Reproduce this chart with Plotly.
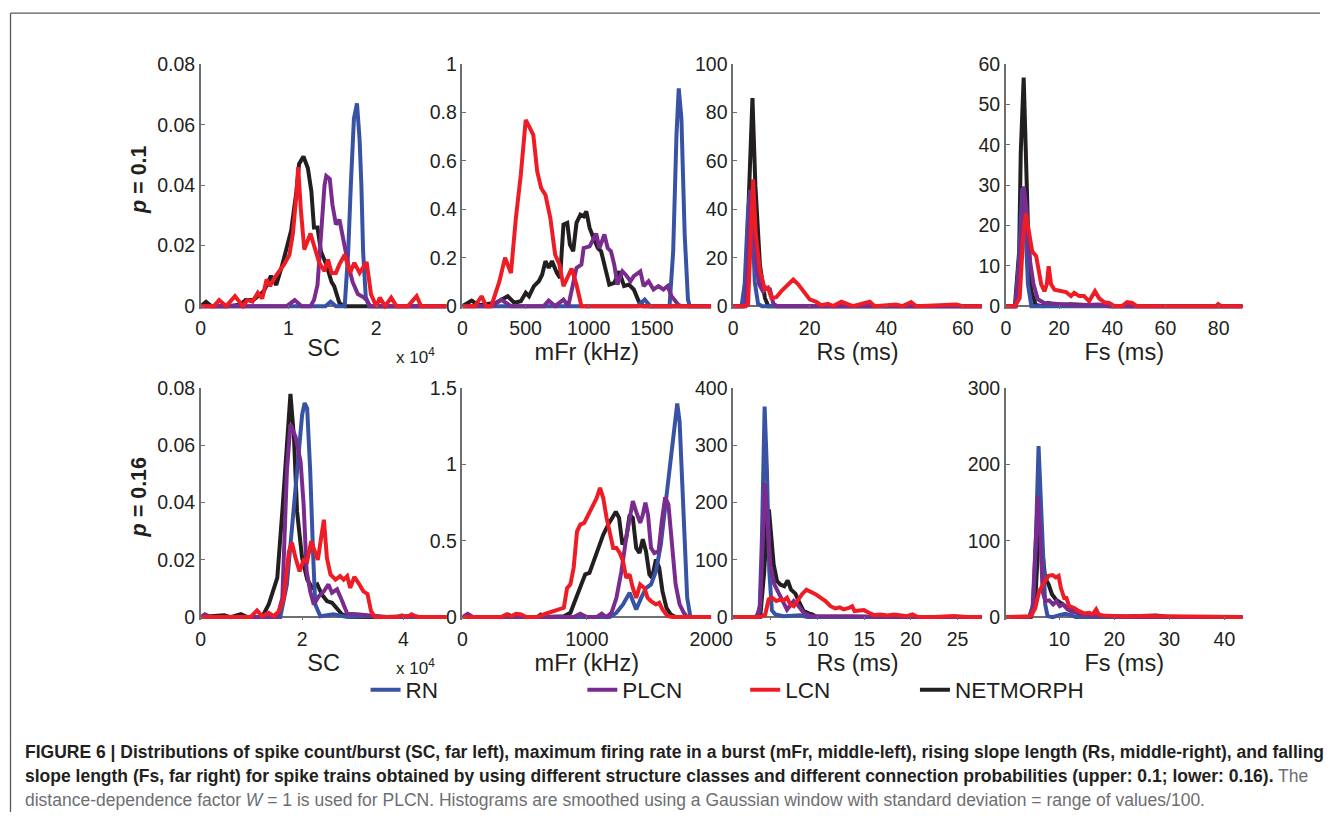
import plotly.graph_objects as go

# ---------------- data ----------------
# Row 1 (p = 0.1) -- SC (x 10^4)
SC1_RN_X = [0, 1.42, 1.48, 1.54, 1.64, 1.68, 1.71, 1.745, 1.78, 1.81, 1.83, 1.85, 1.88, 1.92, 2.8]
SC1_RN_Y = [0, 0, 0.0015, 0, 0, 0.018, 0.04, 0.062, 0.067, 0.055, 0.04, 0.018, 0.003, 0, 0]
SC1_PLCN_X = [0, 0.98, 1.07, 1.15, 1.25, 1.29, 1.33, 1.37, 1.41, 1.43, 1.47, 1.50, 1.54, 1.58, 1.62, 1.68, 1.73, 1.79, 1.85, 1.89, 1.93, 2.8]
SC1_PLCN_Y = [0, 0, 0.002, 0, 0, 0.002, 0.007, 0.0225, 0.04, 0.043, 0.042, 0.0336, 0.027, 0.0286, 0.0225, 0.0138, 0.008, 0.004, 0.003, 0.002, 0, 0]
SC1_LCN_X = [0, 0.15, 0.21, 0.29, 0.39, 0.48, 0.53, 0.59, 0.65, 0.70, 0.75, 0.79, 0.84, 0.90, 0.95, 1.01, 1.05, 1.09, 1.11, 1.14, 1.18, 1.25, 1.30, 1.35, 1.41, 1.45, 1.49, 1.54, 1.58, 1.64, 1.70, 1.75, 1.81, 1.89, 1.94, 2.0, 2.04, 2.10, 2.17, 2.23, 2.36, 2.46, 2.51, 2.8]
SC1_LCN_Y = [0, 0, 0.002, 0, 0.0033, 0, 0.002, 0.0015, 0.0044, 0.0025, 0.0088, 0.0066, 0.0094, 0.0116, 0.0138, 0.017, 0.024, 0.037, 0.046, 0.032, 0.0187, 0.024, 0.019, 0.0143, 0.0116, 0.0154, 0.011, 0.011, 0.0138, 0.017, 0.011, 0.0143, 0.011, 0.0146, 0.0039, 0, 0.0028, 0, 0.0028, 0, 0, 0.0033, 0, 0]
SC1_NM_X = [0, 0.06, 0.12, 0.3, 0.45, 0.51, 0.6, 0.72, 0.8, 0.86, 0.93, 0.97, 1.03, 1.09, 1.12, 1.17, 1.22, 1.26, 1.29, 1.33, 1.37, 1.43, 1.49, 1.52, 1.58, 1.64, 2.8]
SC1_NM_Y = [0, 0.0014, 0, 0, 0.0005, 0.002, 0.002, 0.005, 0.01, 0.007, 0.0138, 0.018, 0.025, 0.038, 0.047, 0.0495, 0.0457, 0.038, 0.026, 0.026, 0.018, 0.0138, 0.008, 0.0066, 0.001, 0, 0]

# Row 1 -- mFr (kHz)
MFR1_RN_X = [0, 1383, 1443, 1487, 1640, 1669, 1695, 1713, 1734, 1760, 1786, 1800, 1970]
MFR1_RN_Y = [0, 0, 0.027, 0, 0, 0.227, 0.708, 0.90, 0.777, 0.296, 0.027, 0, 0]
MFR1_PLCN_X = [0, 228, 306, 384, 644, 683, 734, 800, 838, 877, 903, 942, 960, 1007, 1059, 1085, 1124, 1150, 1176, 1202, 1228, 1267, 1293, 1331, 1357, 1409, 1435, 1474, 1513, 1552, 1591, 1625, 1656, 1708, 1734, 1970]
MFR1_PLCN_Y = [0, 0, 0.027, 0, 0, 0.023, 0, 0.027, 0, 0.089, 0.158, 0.172, 0.24, 0.247, 0.30, 0.24, 0.296, 0.24, 0.227, 0.172, 0.089, 0.144, 0.13, 0.103, 0.124, 0.144, 0.083, 0.103, 0.069, 0.083, 0.069, 0.083, 0.041, 0.007, 0, 0]
MFR1_LCN_X = [0, 99, 151, 189, 228, 267, 293, 337, 384, 423, 462, 501, 527, 561, 592, 623, 657, 696, 734, 768, 800, 830, 864, 903, 942, 1970]
MFR1_LCN_Y = [0, 0, 0.041, 0, 0, 0.062, 0.103, 0.2, 0.137, 0.364, 0.543, 0.77, 0.743, 0.708, 0.557, 0.488, 0.46, 0.364, 0.213, 0.172, 0.083, 0.117, 0.155, 0.089, 0, 0]
MFR1_NM_X = [0, 73, 125, 176, 267, 358, 410, 462, 501, 527, 566, 605, 631, 657, 683, 709, 748, 773, 800, 830, 851, 877, 903, 934, 960, 981, 1007, 1038, 1072, 1098, 1124, 1163, 1202, 1241, 1280, 1318, 1357, 1396, 1435, 1970]
MFR1_NM_Y = [0, 0.023, 0.004, 0.007, 0.014, 0.041, 0.014, 0.02, 0.055, 0.041, 0.083, 0.103, 0.13, 0.186, 0.158, 0.186, 0.137, 0.117, 0.337, 0.344, 0.254, 0.227, 0.344, 0.378, 0.371, 0.392, 0.323, 0.282, 0.24, 0.227, 0.172, 0.089, 0.096, 0.144, 0.083, 0.089, 0.069, 0.02, 0, 0]

# Row 1 -- Rs (ms)
RS1_RN_X = [0, 2.2, 3.0, 3.9, 4.5, 5.0, 5.65, 6.5, 7.5, 65]
RS1_RN_Y = [0, 0, 9, 40, 48, 35, 10, 1, 0, 0]
RS1_PLCN_X = [0, 3.2, 4.0, 4.6, 5.3, 6.0, 6.8, 7.8, 8.7, 9.6, 10.5, 11.5, 65]
RS1_PLCN_Y = [0, 0, 25, 48, 38, 18, 9, 6, 7.6, 7, 1, 0, 0]
RS1_LCN_X = [0, 2.6, 3.9, 4.5, 5.2, 5.9, 7.0, 8.3, 9.1, 10.0, 11.3, 12.6, 14.1, 15.7, 17.0, 18.3, 20.0, 21.7, 23.0, 24.8, 26.1, 28.3, 29.6, 31.3, 35.7, 37.0, 42.6, 44.3, 46.5, 47.8, 58.3, 60.0, 65]
RS1_LCN_Y = [0, 0, 0.7, 22.8, 52.4, 29.7, 14.5, 6.9, 7.6, 3.4, 3.7, 6.2, 8.3, 11, 9, 6.2, 2.8, 1.8, 0.4, 1, 0, 1.8, 1, 0, 1.8, 0, 0.7, 0, 1.7, 0, 0.7, 0, 0]
RS1_NM_X = [0, 2.6, 3.4, 4.1, 5.04, 5.8, 7.0, 8.3, 9.2, 65]
RS1_NM_Y = [0, 0, 15, 50, 86, 50, 17, 3.4, 0, 0]

# Row 1 -- Fs (ms)
FS1_RN_X = [0, 3.6, 5.0, 6.2, 7.1, 8.3, 9.6, 89]
FS1_RN_Y = [0, 0, 12, 29.3, 24, 5.4, 0, 0]
FS1_PLCN_X = [0, 3.7, 5.2, 6.7, 7.7, 8.9, 10.4, 12.0, 14.5, 20.0, 26.3, 35.0, 38.8, 89]
FS1_PLCN_Y = [0, 0, 12, 29.7, 24.3, 12, 5.4, 1.7, 0.8, 0.6, 0.2, 0.4, 0, 0]
FS1_LCN_X = [0, 3.4, 5.2, 6.5, 7.5, 8.7, 9.9, 11.4, 13.3, 14.5, 15.4, 16.1, 17.0, 18.3, 20.7, 22.6, 24.5, 25.7, 27.6, 29.4, 31.3, 33.5, 35.0, 36.9, 38.8, 40.6, 43.7, 45.6, 47.5, 49.3, 79.0, 79.8, 81.0, 89]
FS1_LCN_Y = [0, 0, 2, 17, 23, 18.6, 13.6, 12.4, 5.4, 3.7, 5.4, 9.9, 5.4, 4.1, 3.7, 3.5, 2.5, 3.3, 2.5, 2.5, 1.2, 3.7, 2, 1, 0.8, 0.1, 0, 1, 0.8, 0, 0, 0.5, 0, 0]
FS1_NM_X = [0, 3.4, 5.0, 5.6, 6.7, 7.7, 8.3, 9.6, 11.2, 13.9, 15.8, 18.9, 24.5, 32.5, 40, 89]
FS1_NM_Y = [0, 0, 13.6, 38, 56.7, 38, 20, 3.7, 0.3, 0, 0.8, 0.3, 0.5, 0.2, 0, 0]

# Row 2 (p = 0.16) -- SC (x 10^4)
SC2_RN_X = [0, 1.57, 1.70, 1.84, 1.93, 2.0, 2.05, 2.1, 2.16, 2.22, 2.26, 2.36, 2.62, 2.89, 3.34, 3.6, 4.85]
SC2_RN_Y = [0, 0, 0.0114, 0.037, 0.0567, 0.0707, 0.0748, 0.073, 0.051, 0.0207, 0.0044, 0.0003, 0.001, 0, 0.0004, 0, 0]
SC2_PLCN_X = [0, 0.08, 0.2, 1.51, 1.61, 1.70, 1.77, 1.87, 1.97, 2.03, 2.09, 2.16, 2.23, 2.33, 2.43, 2.52, 2.59, 2.69, 2.79, 2.89, 3.08, 3.28, 3.48, 3.67, 4.2, 4.33, 4.85]
SC2_PLCN_Y = [0, 0.001, 0, 0, 0.0067, 0.051, 0.0674, 0.063, 0.0544, 0.0393, 0.016, 0.009, 0.0044, 0.0073, 0.009, 0.0114, 0.0085, 0.0097, 0.0056, 0.0012, 0.001, 0.0006, 0.0004, 0, 0.0005, 0, 0]
SC2_LCN_X = [0, 0.98, 1.11, 1.21, 1.34, 1.44, 1.54, 1.64, 1.74, 1.80, 1.87, 1.95, 2.03, 2.10, 2.18, 2.25, 2.31, 2.37, 2.43, 2.49, 2.56, 2.66, 2.75, 2.82, 2.89, 2.95, 3.03, 3.11, 3.21, 3.29, 3.36, 3.44, 3.87, 3.97, 4.07, 4.16, 4.26, 4.85]
SC2_LCN_Y = [0, 0, 0.0023, 0.0003, 0.0015, 0.0003, 0.002, 0.0067, 0.023, 0.026, 0.0207, 0.016, 0.02, 0.0195, 0.0265, 0.023, 0.02, 0.027, 0.034, 0.0207, 0.0149, 0.0131, 0.0143, 0.0131, 0.0143, 0.0102, 0.014, 0.012, 0.009, 0.0081, 0.0021, 0, 0, 0.0006, 0, 0.001, 0, 0]
SC2_NM_X = [0, 0.46, 0.59, 0.79, 0.92, 1.21, 1.34, 1.41, 1.51, 1.61, 1.70, 1.77, 1.84, 1.90, 2.0, 2.1, 2.2, 2.3, 2.39, 2.49, 2.59, 2.69, 2.79, 2.95, 4.85]
SC2_NM_Y = [0, 0.0006, 0, 0.001, 0, 0, 0.0044, 0.0085, 0.0137, 0.037, 0.0626, 0.078, 0.0626, 0.037, 0.0207, 0.0131, 0.0102, 0.0114, 0.0079, 0.0056, 0.005, 0.0027, 0.0009, 0, 0]

# Row 2 -- mFr (kHz)
MFR2_RN_X = [0, 1185, 1238, 1291, 1344, 1376, 1397, 1437, 1476, 1516, 1556, 1595, 1635, 1667, 1701, 1727, 1746, 1767, 1788, 1807, 1833, 2000]
MFR2_RN_Y = [0, 0, 0.028, 0.083, 0.16, 0.083, 0.05, 0.126, 0.19, 0.214, 0.3, 0.475, 0.76, 1.03, 1.24, 1.40, 1.28, 0.846, 0.41, 0.126, 0, 0]
MFR2_PLCN_X = [0, 42, 87, 894, 947, 1000, 1079, 1119, 1159, 1198, 1238, 1278, 1317, 1349, 1370, 1397, 1429, 1450, 1471, 1492, 1516, 1542, 1577, 1603, 1630, 1656, 1683, 1714, 1746, 1780, 1807, 2000]
MFR2_PLCN_Y = [0, 0.022, 0, 0, 0.022, 0, 0, 0.022, 0, 0.028, 0.126, 0.3, 0.52, 0.69, 0.76, 0.69, 0.617, 0.67, 0.75, 0.67, 0.453, 0.42, 0.43, 0.628, 0.785, 0.737, 0.475, 0.214, 0.083, 0.028, 0, 0]
MFR2_LCN_X = [0, 312, 352, 392, 431, 471, 511, 603, 669, 722, 775, 815, 841, 868, 894, 921, 947, 979, 1013, 1053, 1079, 1106, 1132, 1159, 1185, 1212, 1238, 1265, 1291, 1317, 1344, 1370, 1397, 1429, 1463, 1489, 1516, 1556, 1582, 1608, 1648, 1688, 2000]
MFR2_LCN_Y = [0, 0, 0.017, 0.006, 0.022, 0.017, 0, 0, 0.022, 0.039, 0.05, 0.061, 0.19, 0.214, 0.323, 0.56, 0.606, 0.617, 0.67, 0.737, 0.78, 0.846, 0.78, 0.65, 0.56, 0.453, 0.453, 0.42, 0.366, 0.257, 0.28, 0.19, 0.126, 0.214, 0.19, 0.126, 0.105, 0.083, 0.094, 0.05, 0.007, 0, 0]
MFR2_NM_X = [0, 339, 365, 405, 603, 630, 669, 815, 868, 907, 947, 987, 1021, 1053, 1093, 1132, 1172, 1206, 1233, 1259, 1286, 1317, 1344, 1370, 1397, 1423, 1450, 1476, 1503, 1524, 1556, 1582, 1608, 1640, 1675, 1714, 2000]
MFR2_NM_Y = [0, 0, 0.017, 0, 0, 0.017, 0, 0.006, 0.028, 0.105, 0.19, 0.28, 0.29, 0.366, 0.453, 0.54, 0.606, 0.65, 0.69, 0.65, 0.475, 0.52, 0.67, 0.65, 0.453, 0.42, 0.51, 0.43, 0.28, 0.257, 0.377, 0.323, 0.17, 0.061, 0.017, 0, 0]

# Row 2 -- Rs (ms)
RS2_RN_X = [0.95, 3.32, 3.78, 4.03, 4.32, 4.57, 4.82, 5.1, 5.47, 6.36, 8.15, 8.87, 27.6]
RS2_RN_Y = [0, 0, 10, 138, 368, 255, 80, 11.6, 4.7, 1.7, 3, 0, 0]
RS2_PLCN_X = [0.95, 3.5, 3.85, 4.14, 4.35, 4.57, 4.93, 5.36, 5.82, 6.29, 6.72, 7.0, 7.44, 7.97, 8.5, 9.23, 11.0, 13.5, 17.1, 18.9, 20.7, 27.6]
RS2_PLCN_Y = [0, 0, 22, 167, 234, 185, 92, 57, 42, 28, 13, 19, 28, 19, 7.6, 1.7, 1, 1.5, 0.6, 1, 0, 0]
RS2_LCN_X = [0.95, 3.85, 4.39, 4.75, 5.1, 5.57, 6.0, 6.36, 6.72, 7.08, 7.44, 7.8, 8.33, 8.8, 9.23, 9.77, 10.3, 10.84, 11.38, 11.9, 12.38, 12.8, 13.35, 13.7, 13.96, 14.43, 14.96, 15.5, 16.04, 16.76, 17.47, 18.19, 18.9, 19.6, 20.16, 20.7, 22.5, 24.6, 26.1, 27.6]
RS2_LCN_Y = [0, 0, 4.7, 31, 34, 28, 31, 29, 34, 22, 19, 28, 40, 48, 45, 40, 34, 28, 19, 15, 17, 13.4, 16, 19, 10.5, 11.6, 12.2, 7.6, 3.5, 4.7, 3, 4.7, 3, 1.7, 4.7, 0.6, 0, 1.7, 0, 0]
RS2_NM_X = [0.95, 3.85, 4.28, 4.57, 4.78, 5.04, 5.29, 5.65, 6.0, 6.43, 6.79, 7.15, 7.62, 7.97, 8.5, 9.05, 9.41, 9.95, 27.6]
RS2_NM_Y = [0, 0, 80, 167, 188, 138, 92, 63, 57, 54, 64, 48, 41, 28, 10.5, 6.4, 4.7, 0, 0]

# Row 2 -- Fs (ms)
FS2_RN_X = [0.3, 4.55, 5.27, 5.76, 6.24, 6.67, 7.09, 7.45, 7.88, 8.8, 10.0, 11.1, 12.1, 13.0, 43.3]
FS2_RN_Y = [0, 0, 16.6, 104, 224, 147, 60, 16.6, 1.3, 0, 2.6, 4.4, 2.6, 0, 0]
FS2_PLCN_X = [0.3, 4.55, 5.15, 5.64, 6.12, 6.6, 6.97, 7.45, 8.18, 8.9, 9.5, 10.1, 10.7, 11.5, 12.4, 13.3, 14.5, 16.1, 18.5, 22.1, 25.8, 29.4, 31.2, 43.3]
FS2_PLCN_Y = [0, 0, 12, 82, 158, 104, 34, 21, 22, 16.6, 21, 14.4, 16.6, 10, 7, 5.7, 3.5, 2.2, 1.3, 0.4, 0.9, 0.4, 0, 0]
FS2_LCN_X = [0.3, 4.24, 4.85, 5.64, 6.36, 7.09, 7.58, 8.06, 8.79, 9.39, 9.88, 10.3, 10.9, 11.3, 11.8, 12.7, 13.6, 14.5, 15.45, 16.06, 16.7, 17.15, 17.9, 19.7, 22.1, 24.5, 28.2, 34.2, 39.1, 43.3]
FS2_LCN_Y = [0, 0, 1, 12, 34, 43, 49, 54, 55, 52, 54, 38, 25, 25, 14.4, 12, 7.8, 4.8, 5.7, 3.5, 10, 3.5, 2.2, 1.3, 0.9, 1.3, 0.9, 0.4, 0.9, 0]
FS2_NM_X = [0.3, 4.85, 5.64, 6.24, 6.55, 6.97, 7.45, 8.06, 8.67, 9.39, 10.3, 11.1, 11.9, 12.7, 13.6, 14.8, 17.3, 22.1, 27.6, 29.4, 31.2, 43.3]
FS2_NM_Y = [0, 0, 21, 104, 112, 78, 51, 43, 30, 23, 19, 14.4, 10, 7, 4.4, 2.6, 1.3, 0.9, 2.2, 0.4, 0, 0]

# axis ranges / ticks
SC1_XRANGE, SC2_XRANGE = [0, 2.8], [0, 4.85]
MFR1_XRANGE, MFR2_XRANGE = [0, 1970], [0, 2000]
RS1_XRANGE, RS2_XRANGE = [0, 65], [0.95, 27.6]
FS1_XRANGE, FS2_XRANGE = [0, 89], [0.3, 43.3]
SC1_XTICKS, SC2_XTICKS = [0, 1, 2], [0, 2, 4]
MFR1_XTICKS, MFR2_XTICKS = [0, 500, 1000, 1500], [0, 1000, 2000]
RS1_XTICKS, RS2_XTICKS = [0, 20, 40, 60], [5, 10, 15, 20, 25]
FS1_XTICKS, FS2_XTICKS = [0, 20, 40, 60, 80], [10, 20, 30, 40]
SC_YTICKS = [0, 0.02, 0.04, 0.06, 0.08]
SC_YLABELS = ["0", "0.02", "0.04", "0.06", "0.08"]
MFR1_YTICKS = [0, 0.2, 0.4, 0.6, 0.8, 1]
MFR1_YLABELS = ["0", "0.2", "0.4", "0.6", "0.8", "1"]
MFR2_YTICKS = [0, 0.5, 1, 1.5]
MFR2_YLABELS = ["0", "0.5", "1", "1.5"]
RS1_YTICKS = [0, 20, 40, 60, 80, 100]
FS1_YTICKS = [0, 10, 20, 30, 40, 50, 60]
RS2_YTICKS = [0, 100, 200, 300, 400]
FS2_YTICKS = [0, 100, 200, 300]
ROW_LABELS = ["<b><i>p</i> = 0.1</b>", "<b><i>p</i> = 0.16</b>"]
X_TITLES = ["SC", "mFr (kHz)", "Rs (ms)", "Fs (ms)"]
SERIES = ["RN", "PLCN", "LCN", "NETMORPH"]

# ---------------- styling ----------------
W, H = 1342, 820
# calibration of the capture (observed = a * requested + b), measured on previous renders
CAL_AX, CAL_BX = 0.981, 4.0
CAL_AY, CAL_BY = 0.977, 9.8
COLORS = {"RN": "#3953a4", "PLCN": "#7a2c8e", "LCN": "#ee1d25", "NETMORPH": "#231f20"}
DRAW_ORDER = ["NETMORPH", "RN", "PLCN", "LCN"]
LEGEND_IDS = {"RN": "legend", "PLCN": "legend2", "LCN": "legend3", "NETMORPH": "legend4"}
LEGEND_X_PX = {"RN": 365, "PLCN": 582, "LCN": 745, "NETMORPH": 915}
COL_PX = [(200, 446), (462, 711), (733, 982), (1006, 1243)]
ROW_PX = [(63, 305), (387, 616)]   # (top, zero line) in reference pixels
PAD = 3
AXC = "#6d6e71"
TXT = "#231f20"
FONT = "Liberation Sans, Arial, Helvetica, sans-serif"


def fx(px):
    return ((px - CAL_BX) / CAL_AX) / W


def fy(py):
    return 1 - ((py - CAL_BY) / CAL_AY) / H


panels = [
    (0, 0, {"RN": (SC1_RN_X, SC1_RN_Y), "PLCN": (SC1_PLCN_X, SC1_PLCN_Y), "LCN": (SC1_LCN_X, SC1_LCN_Y), "NETMORPH": (SC1_NM_X, SC1_NM_Y)},
     SC1_XRANGE, SC1_XTICKS, SC_YTICKS, SC_YLABELS),
    (0, 1, {"RN": (MFR1_RN_X, MFR1_RN_Y), "PLCN": (MFR1_PLCN_X, MFR1_PLCN_Y), "LCN": (MFR1_LCN_X, MFR1_LCN_Y), "NETMORPH": (MFR1_NM_X, MFR1_NM_Y)},
     MFR1_XRANGE, MFR1_XTICKS, MFR1_YTICKS, MFR1_YLABELS),
    (0, 2, {"RN": (RS1_RN_X, RS1_RN_Y), "PLCN": (RS1_PLCN_X, RS1_PLCN_Y), "LCN": (RS1_LCN_X, RS1_LCN_Y), "NETMORPH": (RS1_NM_X, RS1_NM_Y)},
     RS1_XRANGE, RS1_XTICKS, RS1_YTICKS, [str(v) for v in RS1_YTICKS]),
    (0, 3, {"RN": (FS1_RN_X, FS1_RN_Y), "PLCN": (FS1_PLCN_X, FS1_PLCN_Y), "LCN": (FS1_LCN_X, FS1_LCN_Y), "NETMORPH": (FS1_NM_X, FS1_NM_Y)},
     FS1_XRANGE, FS1_XTICKS, FS1_YTICKS, [str(v) for v in FS1_YTICKS]),
    (1, 0, {"RN": (SC2_RN_X, SC2_RN_Y), "PLCN": (SC2_PLCN_X, SC2_PLCN_Y), "LCN": (SC2_LCN_X, SC2_LCN_Y), "NETMORPH": (SC2_NM_X, SC2_NM_Y)},
     SC2_XRANGE, SC2_XTICKS, SC_YTICKS, SC_YLABELS),
    (1, 1, {"RN": (MFR2_RN_X, MFR2_RN_Y), "PLCN": (MFR2_PLCN_X, MFR2_PLCN_Y), "LCN": (MFR2_LCN_X, MFR2_LCN_Y), "NETMORPH": (MFR2_NM_X, MFR2_NM_Y)},
     MFR2_XRANGE, MFR2_XTICKS, MFR2_YTICKS, MFR2_YLABELS),
    (1, 2, {"RN": (RS2_RN_X, RS2_RN_Y), "PLCN": (RS2_PLCN_X, RS2_PLCN_Y), "LCN": (RS2_LCN_X, RS2_LCN_Y), "NETMORPH": (RS2_NM_X, RS2_NM_Y)},
     RS2_XRANGE, RS2_XTICKS, RS2_YTICKS, [str(v) for v in RS2_YTICKS]),
    (1, 3, {"RN": (FS2_RN_X, FS2_RN_Y), "PLCN": (FS2_PLCN_X, FS2_PLCN_Y), "LCN": (FS2_LCN_X, FS2_LCN_Y), "NETMORPH": (FS2_NM_X, FS2_NM_Y)},
     FS2_XRANGE, FS2_XTICKS, FS2_YTICKS, [str(v) for v in FS2_YTICKS]),
]

fig = go.Figure()
layout = {}
for i, (r, c, data, xr, xt, yt, ylab) in enumerate(panels):
    n = i + 1
    sfx = "" if n == 1 else str(n)
    top_px, zero_px = ROW_PX[r]
    x0, x1 = COL_PX[c]
    ytop = yt[-1]
    ybot = -ytop * PAD / (zero_px - top_px)
    for s in DRAW_ORDER:
        x, y = data[s]
        fig.add_trace(go.Scatter(
            x=x, y=y, mode="lines", name=s,
            line=dict(color=COLORS[s], width=4),
            xaxis="x" + sfx, yaxis="y" + sfx,
            showlegend=(i == 0), legend=LEGEND_IDS[s], hoverinfo="skip"))
    layout["xaxis" + sfx] = dict(
        domain=[fx(x0), fx(x1)], range=xr, anchor="y" + sfx,
        tickmode="array", tickvals=xt, ticktext=[str(v) for v in xt],
        ticks="inside", ticklen=4, tickcolor=AXC, tickwidth=1,
        showline=False, zeroline=False, showgrid=False,
        tickfont=dict(size=19.5, color=TXT), ticklabelstandoff=5,
        title=dict(text=X_TITLES[c], font=dict(size=23.5, color=TXT), standoff=1))
    layout["yaxis" + sfx] = dict(
        domain=[fy(zero_px + PAD), fy(top_px)], range=[ybot, ytop], anchor="x" + sfx,
        tickmode="array", tickvals=yt, ticktext=ylab,
        ticks="inside", ticklen=4, tickcolor=AXC, tickwidth=1,
        showline=True, linecolor=AXC, linewidth=1.5,
        zeroline=True, zerolinecolor=AXC, zerolinewidth=1.5, showgrid=False,
        tickfont=dict(size=19.5, color=TXT))

annotations = []
for r, lab in enumerate(ROW_LABELS):
    top_px, zero_px = ROW_PX[r]
    annotations.append(dict(
        text=lab, x=fx(138), y=fy((top_px + zero_px) / 2 - 6), xref="paper", yref="paper",
        textangle=-90, showarrow=False, font=dict(size=21.5, color=TXT),
        xanchor="center", yanchor="middle"))
    annotations.append(dict(
        text="x 10<sup>4</sup>", x=fx(393), y=fy(zero_px + 50), xref="paper", yref="paper",
        showarrow=False, font=dict(size=17, color=TXT), xanchor="left", yanchor="middle"))

CAP_FONT = "Liberation Sans, Arial, sans-serif"
CAP_GRAY = "#6d6e71"
CAPTION = [
    "<b>FIGURE 6 | Distributions of spike count/burst (SC, far left), maximum firing rate in a burst (mFr, middle-left), rising slope length (Rs, middle-right), and falling</b>",
    "<b>slope length (Fs, far right) for spike trains obtained by using different structure classes and different connection probabilities (upper: 0.1; lower: 0.16).</b>"
    "<span style='color:" + CAP_GRAY + "'> The</span>",
    "<span style='color:" + CAP_GRAY + "'>distance-dependence factor <i>W</i> = 1 is used for PLCN. Histograms are smoothed using a Gaussian window with standard deviation = range of values/100.</span>",
]
CAP_Y = [751, 775, 799]
for txt, yy in zip(CAPTION, CAP_Y):
    annotations.append(dict(
        text=txt, x=fx(22), y=fy(yy), xref="paper", yref="paper", showarrow=False,
        xanchor="left", yanchor="middle", align="left",
        font=dict(family=CAP_FONT, size=17.5, color=TXT)))

for s in SERIES:
    key = LEGEND_IDS[s]
    layout[key] = dict(
        x=fx(LEGEND_X_PX[s]), y=fy(689), xref="paper", yref="paper",
        xanchor="left", yanchor="middle", orientation="h",
        bgcolor="rgba(0,0,0,0)", font=dict(size=22.5, color=TXT))

shapes = [
    dict(type="line", xref="paper", yref="paper", x0=fx(9.5), x1=fx(9.5), y0=fy(12), y1=0,
         line=dict(color="#58595b", width=1.3)),
    dict(type="line", xref="paper", yref="paper", x0=fx(9.5), x1=1, y0=fy(12), y1=fy(12),
         line=dict(color="#58595b", width=1.3)),
]

fig.update_layout(
    width=W, height=H, margin=dict(l=0, r=0, t=0, b=0),
    paper_bgcolor="white", plot_bgcolor="rgba(0,0,0,0)",
    font=dict(family=FONT, color=TXT),
    annotations=annotations, shapes=shapes, **layout)

fig.write_html("out.html", config={"displayModeBar": False},
               post_script="document.body.style.margin='0';")
